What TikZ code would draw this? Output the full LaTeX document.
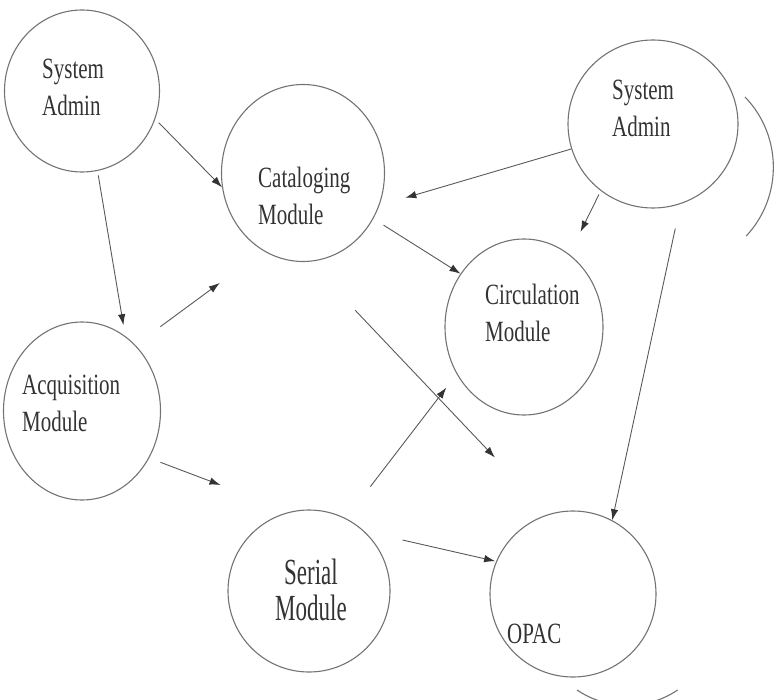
\documentclass[tikz,border=0pt]{standalone}
\usepackage{fontspec}
\setmainfont{Liberation Serif}
\usepackage{graphicx}
\usetikzlibrary{shapes.geometric,arrows.meta}
\newcommand{\tallL}[1]{\scalebox{1}[1.4]{\begin{tabular}{@{}l@{}}#1\end{tabular}}}
\newcommand{\tallC}[1]{\scalebox{1}[1.6]{\begin{tabular}{@{}c@{}}#1\end{tabular}}}

\begin{document}
\begin{tikzpicture}[x=1pt, y=-1pt, module/.style={ellipse, draw=black!55, line width=1.1pt, inner sep=0pt}, lbl/.style={anchor=west, inner sep=0pt, text=black!80, font=\fontsize{21}{26.5}\selectfont}, flow/.style={draw=black!65, line width=0.9pt, -{Latex[length=11pt, width=7.5pt, color=black!80]}}]
	\useasboundingbox (0,0) rectangle (775,700);

	% modules
	\node (sysadminA) [module, minimum width=155, minimum height=162] at (82,91) {};
	\node (catalog) [module, minimum width=163, minimum height=177] at (303,173) {};
	\node (sysadminB) [module, minimum width=170, minimum height=168] at (653,124) {};
	\node (circul) [module, minimum width=158, minimum height=176] at (524,327) {};
	\node (acquis) [module, minimum width=157, minimum height=178] at (82,411) {};
	\node (serial) [module, minimum width=162, minimum height=162] at (309,591) {};
	\node (opac) [module, minimum width=166, minimum height=166] at (573,594) {};

	% labels
	\node (sysadminAtxt) [lbl] at (42,90) {\tallL{System\\Admin}};
	\node (catalogtxt) [lbl] at (258,199) {\tallL{Cataloging\\Module}};
	\node (sysadminBtxt) [lbl] at (612,111) {\tallL{System\\Admin}};
	\node (circultxt) [lbl] at (485,316) {\tallL{Circulation\\Module}};
	\node (acquistxt) [lbl] at (22,406) {\tallL{Acquisition\\Module}};
	\node (serialtxt) [lbl, anchor=center, font=\fontsize{23}{21.5}\selectfont] at (311,595) {\tallC{Serial\\Module}};
	\node (opactxt) [lbl] at (507,636) {\tallL{OPAC}};

	% partial rings
	\draw [black!55, line width=1.1pt] (745,97) arc[start angle=-44, end angle=43, radius=101];
	\draw [black!55, line width=1.1pt] (577,690) arc[start angle=124, end angle=56, radius=90];

	% data flow
	\draw [flow, shorten <=5pt] (sysadminA.-21.5) -- (catalog.190.7);
	\draw [flow, shorten <=4.5pt, shorten >=11pt] (sysadminA.-79.8) -- (acquis.60.9);
	\draw [flow, shorten <=31pt, shorten >=54pt] (acquis.51.1) -- (catalog.243.4);
	\draw [flow, shorten <=12pt, shorten >=75pt] (acquis.-35) -- (serial.103.2);
	\draw [flow, shorten <=12pt] (catalog.-33.1) -- (circul.140);
	\draw [flow, shorten <=67pt, shorten >=78pt] (catalog.-86.1) -- (opac.107.1);
	\draw [flow, shorten >=27pt] (sysadminB.197.5) -- (catalog.-23.3);
	\draw [flow, shorten <=4pt, shorten >=25pt] (sysadminB.232.8) -- (circul.58.9);
	\draw [flow, shorten <=25pt] (sysadminB.-71) -- (opac.62.8);
	\draw [flow, shorten <=40pt, shorten >=17pt] (serial.63.3) -- (circul.215.5);
	\draw [flow, shorten <=39pt, shorten >=1pt] (serial.47.5) -- (opac.157.7);
\end{tikzpicture}
\end{document}
